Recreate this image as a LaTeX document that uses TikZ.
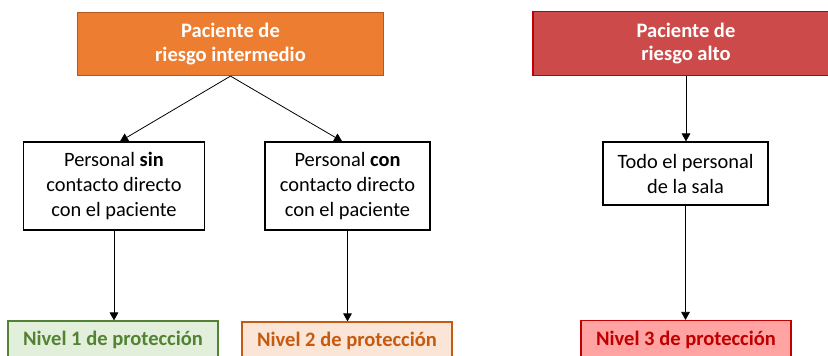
\documentclass[tikz,border=0pt]{standalone}
\usepackage{fontspec}
\setmainfont{Carlito}
\usetikzlibrary{arrows.meta,calc}
\definecolor{orfill}{HTML}{ED7D31}
\definecolor{ordraw}{HTML}{AE5A21}
\definecolor{rdfill}{HTML}{CD4A4A}
\definecolor{rddraw}{HTML}{C00000}
\definecolor{gnfill}{HTML}{E2EFDA}
\definecolor{gndraw}{HTML}{548235}
\definecolor{o2fill}{HTML}{FBE5D6}
\definecolor{o2draw}{HTML}{C55A11}
\definecolor{r3fill}{HTML}{FFA3A3}
\tikzset{
  box/.style={draw, line width=0.9pt, inner sep=0pt, align=center,
    font=\fontsize{15.3}{18.75}\selectfont},
  headbox/.style={box, text=white, font=\fontsize{15.4}{17.5}\selectfont\bfseries},
  whitebox/.style={box, draw=black, fill=white},
  levelbox/.style={box, font=\fontsize{15.4}{18}\selectfont\bfseries},
  arr/.style={-{Triangle[width=6.5pt,length=6pt]}, line width=0.6pt, black}
}
\begin{document}
\begin{tikzpicture}[x=0.75pt,y=-0.75pt]
\useasboundingbox (0,0) rectangle (828,356);
\clip (0,0) rectangle (828,356);
\node[headbox, fill=orfill, draw=ordraw, minimum width=229.5pt, minimum height=47.25pt] (inter) at (230.5,44) {Paciente de\\riesgo intermedio};
\node[headbox, fill=rdfill, draw=rddraw, minimum width=229.5pt, minimum height=48pt] (alto) at (686,43.5) {Paciente de\\riesgo alto};
\node[whitebox, minimum width=135.75pt, minimum height=66pt] (sin) at (114,186) {Personal \textbf{sin}\\contacto directo\\con el paciente};
\node[whitebox, minimum width=123.75pt, minimum height=66pt] (con) at (347.5,186) {Personal \textbf{con}\\contacto directo\\con el paciente};
\node[whitebox, minimum width=123.75pt, minimum height=47.25pt] (todo) at (685.5,173.5) {Todo el personal\\de la sala};
\node[levelbox, fill=gnfill, draw=gndraw, text=gndraw, minimum width=157.5pt, minimum height=28.5pt] (n1) at (113,340) {Nivel 1 de protección};
\node[levelbox, fill=o2fill, draw=o2draw, text=o2draw, minimum width=157.5pt, minimum height=28.5pt] (n2) at (347,341) {Nivel 2 de protección};
\node[levelbox, fill=r3fill, draw=rddraw, text=rddraw, minimum width=157.5pt, minimum height=28.5pt] (n3) at (686,339.5) {Nivel 3 de protección};
\draw[arr] (inter.south) -- ([xshift=4.5pt]sin.north);
\draw[arr] (inter.south) -- ([xshift=-4pt]con.north);
\draw[arr] (sin.south) -- (sin.south |- n1.north);
\draw[arr] (con.south) -- (con.south |- n2.north);
\draw[arr] (alto.south) -- (alto.south |- todo.north);
\draw[arr] (todo.south) -- (todo.south |- n3.north);
\end{tikzpicture}
\end{document}
